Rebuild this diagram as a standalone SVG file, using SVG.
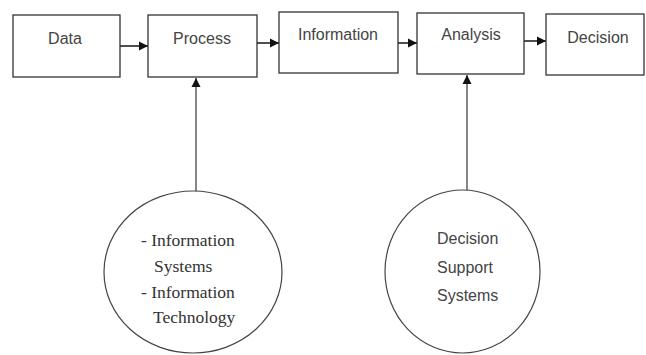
<svg xmlns="http://www.w3.org/2000/svg" width="646" height="355" viewBox="0 0 646 355">
<style>
.box{fill:#fff;stroke:#333;stroke-width:1.3}
.circ{fill:#fff;stroke:#444;stroke-width:1.2}
.lbl{font-family:"Liberation Sans",Arial,sans-serif;font-size:16px;fill:#444}
.ser{font-family:"Liberation Serif","Times New Roman",serif;font-size:17.5px;fill:#333}
.con{stroke:#222;stroke-width:1.6;fill:none}
.vcon{stroke:#444;stroke-width:1.3;fill:none}
</style>
<defs>
<marker id="ah" markerUnits="userSpaceOnUse" markerWidth="10" markerHeight="10" refX="9" refY="5" orient="auto">
<path d="M0,0.5 L9,5 L0,9.5 Z" fill="#111"/>
</marker>
</defs>
<rect width="646" height="355" fill="#fff"/>
<g id="connectors">
<line class="con" x1="120" y1="46" x2="148" y2="46" marker-end="url(#ah)"/>
<line class="con" x1="257" y1="43" x2="279" y2="43" marker-end="url(#ah)"/>
<line class="con" x1="398" y1="43" x2="417" y2="43" marker-end="url(#ah)"/>
<line class="con" x1="524" y1="41" x2="546" y2="41" marker-end="url(#ah)"/>
<line class="vcon" x1="196" y1="192" x2="196" y2="78" marker-end="url(#ah)"/>
<line class="vcon" x1="467" y1="190" x2="467" y2="75" marker-end="url(#ah)"/>
</g>
<g id="data"><rect class="box" x="13" y="15" width="107" height="62"/><text class="lbl" x="65" y="44" text-anchor="middle">Data</text></g>
<g id="process"><rect class="box" x="148" y="15" width="109" height="62"/><text class="lbl" x="202" y="44" text-anchor="middle">Process</text></g>
<g id="information"><rect class="box" x="279" y="12" width="119" height="61"/><text class="lbl" x="338" y="40" text-anchor="middle">Information</text></g>
<g id="analysis"><rect class="box" x="417" y="13" width="107" height="61"/><text class="lbl" x="471" y="40" text-anchor="middle">Analysis</text></g>
<g id="decision"><rect class="box" x="546" y="14" width="98" height="61"/><text class="lbl" x="598" y="43" text-anchor="middle">Decision</text></g>
<g id="is-it">
<ellipse class="circ" cx="193" cy="272" rx="89" ry="81"/>
<text class="ser" x="141" y="246">- Information</text>
<text class="ser" x="154" y="272">Systems</text>
<text class="ser" x="141" y="298">- Information</text>
<text class="ser" x="153" y="323">Technology</text>
</g>
<g id="dss">
<ellipse class="circ" cx="462.5" cy="271.5" rx="77.5" ry="81.5"/>
<text class="lbl" x="437" y="244">Decision</text>
<text class="lbl" x="437" y="273">Support</text>
<text class="lbl" x="437" y="301">Systems</text>
</g>
</svg>
